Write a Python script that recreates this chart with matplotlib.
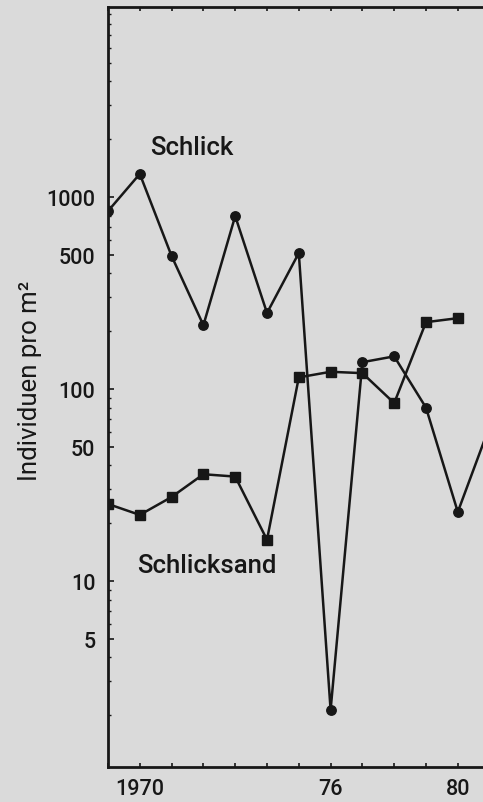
import matplotlib
matplotlib.use("Agg")
import matplotlib.pyplot as plt
from matplotlib.ticker import FixedLocator, LogLocator, NullFormatter

years = [1969, 1970, 1971, 1972, 1973, 1974, 1975, 1976, 1977, 1978, 1979, 1980, 1981]
schlick = [845, 1320, 493, 215, 796, 249, 511, 2.13, 138, 148, 80, 22.9, 64]
sand_years = [1969, 1970, 1971, 1972, 1973, 1974, 1975, 1976, 1977, 1978, 1979, 1980]
schlicksand = [25.2, 22.1, 27.4, 36, 35, 16.4, 115, 123, 121, 84.5, 223, 234]
y_ticks = [5, 10, 50, 100, 500, 1000]
y_ticklabels = ["5", "10", "50", "100", "500", "1000"]
x_ticks = list(range(1969, 1981))
x_ticklabels = {1970: "1970", 1976: "76", 1980: "80"}

bg = "#dadada"
ink = "#171717"
label_font = ["Roboto", "DejaVu Sans"]

fig = plt.figure(figsize=(4.83, 8.03), dpi=100, facecolor=bg)
ax = fig.add_axes([108 / 483, 35 / 803, 1 - 108 / 483, (768 - 8) / 803])
ax.set_facecolor(bg)

ax.plot(years, schlick, color=ink, lw=1.8, marker="o", ms=6.8, mfc=ink, mec=ink,
        clip_on=True, zorder=3)
ax.plot(sand_years, schlicksand, color=ink, lw=1.8, marker="s", ms=6.5, mfc=ink,
        mec=ink, clip_on=True, zorder=3)

ax.set_yscale("log")
ax.set_ylim(1.075, 9770)
ax.set_xlim(1969, 1969 + (483 - 108) / 31.8)

ax.yaxis.set_major_locator(FixedLocator(y_ticks))
ax.set_yticklabels(y_ticklabels)
ax.yaxis.set_minor_locator(LogLocator(base=10, subs=range(2, 10)))
ax.yaxis.set_minor_formatter(NullFormatter())

ax.set_xticks(x_ticks)
ax.set_xticklabels([x_ticklabels.get(y, "") for y in x_ticks])

for s in ["left", "top", "bottom"]:
    ax.spines[s].set_linewidth(2.0)
    ax.spines[s].set_color(ink)
ax.spines["right"].set_visible(False)

ax.tick_params(axis="y", which="major", direction="in", length=4, width=1.2,
               color=ink, pad=9, labelsize=15.5, labelcolor=ink)
ax.tick_params(axis="y", which="minor", direction="in", length=2.5, width=1.0, color=ink)
ax.tick_params(axis="x", which="major", direction="in", length=3, width=1.2,
               color=ink, pad=8, labelsize=15.5, labelcolor=ink, top=True)
for lab in ax.get_yticklabels() + ax.get_xticklabels():
    lab.set_family(label_font)
    lab.set_fontweight("medium")

ax.text(1970.32, 1675, "Schlick", family=label_font, fontsize=18.5, color=ink,
        ha="left", va="baseline", fontweight="medium")
ax.text(1969.91, 11.1, "Schlicksand", family=label_font, fontsize=18.5, color=ink,
        ha="left", va="baseline", fontweight="medium")
fig.text(30 / 483, 1 - 381 / 803, "Individuen pro m²", family=label_font,
         fontsize=18.5, color=ink, rotation=90, ha="center", va="center")

fig.savefig("out.png", dpi=100, facecolor=bg)
